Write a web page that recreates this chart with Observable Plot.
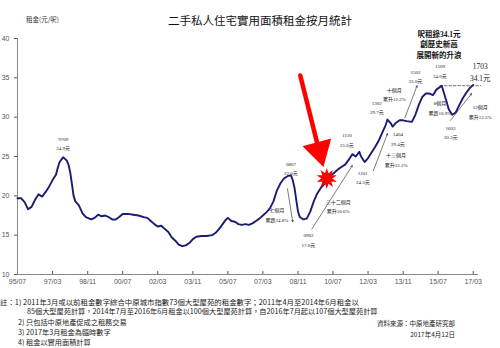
<!DOCTYPE html>
<html><head><meta charset="utf-8">
<script src="https://cdn.jsdelivr.net/npm/d3@7"></script>
<script src="https://cdn.jsdelivr.net/npm/@observablehq/plot@0.6"></script>
<style>
body{margin:0;background:#fff;}
#wrap{position:relative;width:500px;height:348px;overflow:hidden;font-family:"Noto Sans CJK TC","Noto Sans",sans-serif;}
#wrap svg{position:absolute;left:0;top:0;}
.t{position:absolute;white-space:nowrap;color:#222;line-height:1;}
</style></head><body><div id="wrap"></div>
<script>
// ---- data ----
const months = ["1995-07","1995-09","1995-11","1996-01","1996-03","1996-05","1996-07","1996-09","1996-11","1997-01","1997-03","1997-05","1997-06","1997-07","1997-08","1997-09","1997-10","1997-11","1997-12","1998-01","1998-02","1998-03","1998-04","1998-06","1998-08","1998-10","1999-01","1999-03","1999-05","1999-07","1999-09","1999-11","2000-01","2000-03","2000-05","2000-07","2000-10","2001-01","2001-04","2001-07","2001-09","2001-11","2002-01","2002-03","2002-05","2002-07","2002-09","2002-11","2003-01","2003-03","2003-05","2003-07","2003-09","2003-11","2004-01","2004-04","2004-07","2004-10","2004-12","2005-02","2005-04","2005-06","2005-07","2005-09","2005-11","2006-01","2006-03","2006-05","2006-07","2006-09","2006-11","2007-01","2007-03","2007-05","2007-07","2007-09","2007-11","2008-01","2008-03","2008-05","2008-07","2008-08","2008-09","2008-10","2008-11","2008-12","2009-02","2009-04","2009-06","2009-08","2009-10","2009-12","2010-02","2010-04","2010-06","2010-08","2010-10","2010-12","2011-02","2011-04","2011-06","2011-08","2011-10","2011-11","2012-01","2012-03","2012-05","2012-07","2012-09","2012-11","2013-01","2013-02","2013-04","2013-05","2013-07","2013-09","2013-11","2014-01","2014-04","2014-06","2014-08","2014-10","2014-12","2015-02","2015-04","2015-06","2015-09","2015-10","2015-12","2016-01","2016-03","2016-05","2016-07","2016-09","2016-11","2017-01","2017-03"];
const rents = [19.7,19.7,19.2,18.3,18.6,19.5,20.2,19.9,20.5,21.2,22.0,22.7,23.6,24.3,24.6,24.9,24.7,24.5,24.0,23.0,21.5,20.0,19.3,18.8,17.8,17.3,17.0,17.2,17.6,17.4,17.5,17.3,17.0,17.0,17.3,17.7,17.7,17.6,17.5,17.3,17.2,16.8,16.4,16.1,16.2,15.8,15.4,14.7,14.3,13.8,13.6,13.7,14.0,14.5,14.8,14.9,14.9,15.0,15.3,15.8,16.4,17.0,17.2,16.8,16.7,16.4,16.3,16.4,16.3,16.5,16.8,17.1,17.5,17.9,18.4,19.3,20.7,21.6,22.2,22.5,22.6,22.0,21.0,19.5,18.0,17.3,17.0,17.1,18.0,19.3,20.3,21.0,21.5,22.1,22.6,23.0,23.4,23.7,24.0,24.6,25.3,25.0,25.6,25.0,24.3,24.8,25.5,26.2,27.0,28.0,29.0,29.7,29.2,28.8,29.3,29.6,29.6,29.5,29.4,30.3,31.6,32.6,33.0,33.0,32.8,33.5,34.0,33.3,31.8,31.0,30.3,30.6,31.5,32.4,33.1,33.7,34.1];
const tickLabels = ["95/07","97/03","98/11","00/07","02/03","03/11","05/07","07/03","08/11","10/07","12/03","13/11","15/07","17/03"];
const yTicks = [10,15,20,25,30,35,40];

// annotation labels: [date, value, text]
const noteDates  = ["1997-09-01","2008-07-01","2007-11-01","2009-05-01","2010-10-01","2011-03-01","2011-12-01","2013-07-01","2012-08-01","2013-08-01","2013-06-01","2014-06-01","2015-08-01","2015-08-01","2016-02-01","2017-07-01"];
const noteValues = [26.8,23.6,17.7,14.5,18.8,27.2,22.45,24.7,31.35,27.35,33.0,35.3,36.0,31.3,28.2,30.8];
const noteTexts  = ["9709\n24.9元","0807\n22.6元","七個月\n累跌24.8%","0902\n17.0元","三十二個月\n累升50.6%","1110\n25.6元","1201\n24.3元","十三個月\n累升22.2%","1302\n29.7元","1404\n29.4元","十個月\n累升12.2%","1502\n33.0元","1509\n34.0元","8個月\n累跌10.9%","1603\n30.3元","12個月\n累升12.5%"];
const latestLabel = {date:"2017-07-01", value:35.8, text:"1703\n34.1元"};
const calloutText = "呎租錄34.1元\n創歷史新高\n展開新的升浪";
const calloutPos = {date:"2015-07-15", value:39.3};

// thin arrows: from (date,value) to (date,value)
const arrowFrom = [["2008-05-01",20.9],["2009-07-01",15.8],["2012-06-01",23.2],["2013-12-01",29.95],["2016-02-01",29.6]];
const arrowTo   = [["2008-08-01",16.7],["2011-06-01",23.85],["2013-02-01",27.9],["2014-07-01",34.0],["2017-02-01",33.0]];

// record-high reference (dashed)
const recordLine = [["2015-08-01",34.0],["2017-07-10",34.0]];
// red pointer and burst
const redLine = [["2008-12-10",35.3],["2009-11-01",25.75]];
const redHead = {date:"2009-11-01", value:25.75};
const burst = {date:"2010-03-15", value:22.2};

// ---- build ----
const p = d3.utcParse("%Y-%m");
const pd = d3.utcParse("%Y-%m-%d");
const data = months.map((m,i)=>({date:p(m), value:rents[i]}));
const xTicks = tickLabels.map(s=>{const [yy,mm]=s.split("/"); return new Date(Date.UTC((+yy>50?1900:2000)+(+yy), +mm-1, 1));});
const notes = noteTexts.map((t,i)=>({date:pd(noteDates[i]), value:noteValues[i], text:t}));
const arrows = arrowFrom.map((f,i)=>({d1:pd(f[0]), v1:f[1], d2:pd(arrowTo[i][0]), v2:arrowTo[i][1]}));
const dash = recordLine.map(r=>({date:pd(r[0]), value:r[1]}));
const red = redLine.map(r=>({date:pd(r[0]), value:r[1]}));
const serif = "'Liberation Serif','Noto Sans CJK TC',serif";

const chart = Plot.plot({
  width:500, height:348,
  marginTop:38, marginBottom:74, marginLeft:17, marginRight:22,
  style:{background:"transparent", fontFamily:"'Liberation Sans','Noto Sans CJK TC',sans-serif", overflow:"visible"},
  x:{type:"utc", domain:[p("1995-07"), p("2017-06")]},
  y:{domain:[10,40]},
  marks:[
    Plot.axisY({ticks:yTicks, tickSize:3, tickPadding:5, fontSize:7, color:"#555", label:null}),
    Plot.axisX({ticks:xTicks, tickFormat:d3.utcFormat("%y/%m"), tickSize:-3, tickPadding:8, fontSize:7, color:"#555", label:null}),
    Plot.ruleX([p("1995-07")], {stroke:"#888", strokeWidth:1}),
    Plot.ruleY([10], {stroke:"#888", strokeWidth:1}),
    Plot.line(dash, {x:"date", y:"value", stroke:"#333", strokeWidth:0.7, strokeDasharray:"2.5,2", clip:false}),
    Plot.line(data, {x:"date", y:"value", stroke:"#1b1b72", strokeWidth:1.9, curve:"linear"}),
    Plot.arrow(arrows, {x1:"d1", y1:"v1", x2:"d2", y2:"v2", stroke:"#222", strokeWidth:0.6, headLength:4}),
    Plot.line(red, {x:"date", y:"value", stroke:"#f00", strokeWidth:4.5}),
    Plot.dot([redHead], {x:"date", y:"value", symbol:"triangle", r:11, rotate:165, fill:"#f00", stroke:"none"}),
    Plot.dot([burst], {x:"date", y:"value", symbol:"star", r:6.3, fill:"#f00", stroke:"none"}),
    Plot.dot([burst], {x:"date", y:"value", symbol:"star", r:6.3, rotate:36, fill:"#f00", stroke:"none"}),
    Plot.text(notes, {x:"date", y:"value", text:"text", fontSize:5, lineHeight:1.9, fill:"#222", fontFamily:serif, clip:false}),
    Plot.text([latestLabel], {x:d=>pd(d.date), y:"value", text:"text", fontSize:7.5, lineHeight:1.6, fill:"#222", fontFamily:serif, clip:false}),
    Plot.text([calloutPos], {x:d=>pd(d.date), y:"value", text:()=>calloutText, fontSize:7.5, fontWeight:"bold", lineHeight:1.4, fill:"#111", fontFamily:serif})
  ]
});
const wrap = document.getElementById("wrap");
wrap.appendChild(chart);

function addText(txt, left, top, size, extra){
  const d=document.createElement("div"); d.className="t"; d.textContent=txt;
  d.style.left=left+"px"; d.style.top=top+"px"; d.style.fontSize=size+"px";
  if(extra) Object.assign(d.style, extra);
  wrap.appendChild(d);
}
addText("二手私人住宅實用面積租金按月統計", 168, 15, 11.5, {color:"#111"});
addText("租金(元/呎)", 26, 16, 6.5, {color:"#333"});
addText("註：1) 2011年3月或以前租金數字綜合中原城市指數73個大型屋苑的租金數字；2011年4月至2014年6月租金以", 0, 297.5, 7.4);
addText("85個大型屋苑計算，2014年7月至2016年6月租金以100個大型屋苑計算，自2016年7月起以107個大型屋苑計算", 27, 307.5, 7.2);
addText("2) 只包括中原地產促成之租務交易", 18, 318.5, 7.2);
addText("3) 2017年3月租金為臨時數字", 18, 328.5, 7.2);
addText("4) 租金以實用面積計算", 18, 339, 7.2);
addText("資料來源：中原地產研究部", 0, 320, 6.5, {left:"auto", right:"45px"});
addText("2017年4月12日", 0, 330.5, 6.5, {left:"auto", right:"45px"});
</script></body></html>
